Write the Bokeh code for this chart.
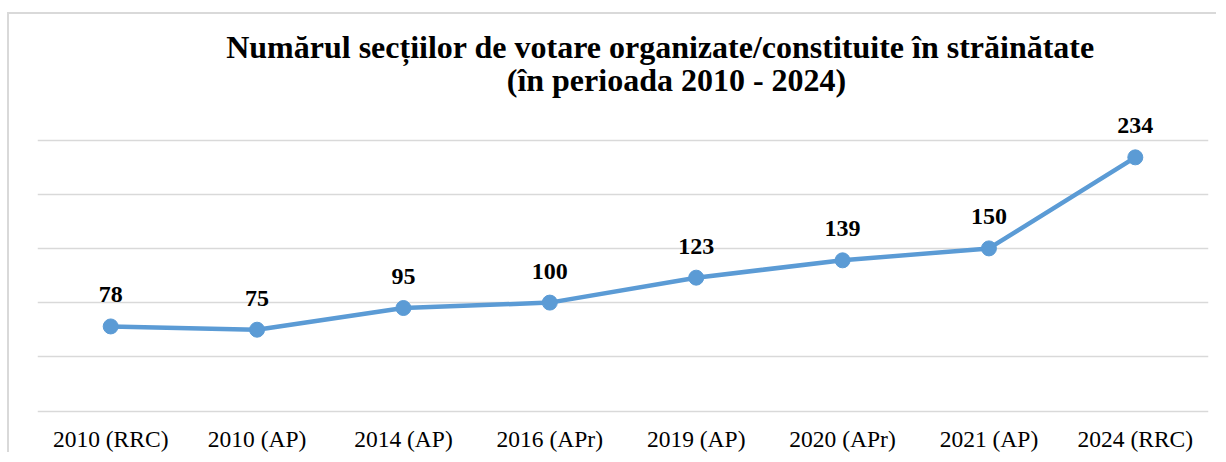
from bokeh.plotting import figure
from bokeh.models import FactorRange, Range1d, ColumnDataSource, LabelSet, Label
from bokeh.core.properties import value
from bokeh.embed import file_html
from bokeh.resources import INLINE

# ---- data ----
categories = ["2010 (RRC)", "2010 (AP)", "2014 (AP)", "2016 (APr)",
              "2019 (AP)", "2020 (APr)", "2021 (AP)", "2024 (RRC)"]
sections = [78, 75, 95, 100, 123, 139, 150, 234]
title_lines = ["Numărul secțiilor de votare organizate/constituite în străinătate",
               "(în perioada 2010 - 2024)"]
y_ticks = [0, 50, 100, 150, 200, 250]

SERIF = "Liberation Serif"
BLUE = "#5B9BD5"
GRID = "#d9d9d9"

# ---- layout (page pixels) ----
BORDER_X, BORDER_Y = 7, 12            # outer light border position
CANVAS_X0, CANVAS_Y0 = BORDER_X + 2, BORDER_Y + 2
W, H = 1209, 440
FRAME_L, FRAME_R = 37, 1208           # plot area horizontal extent
Y0_PAGE, YTOP_PAGE = 410.5, 139.5     # page y of value 0 and of value 250
PPU = (Y0_PAGE - YTOP_PAGE) / y_ticks[-1]
y_start = -(CANVAS_Y0 + H - Y0_PAGE) / PPU
y_end = (Y0_PAGE - CANVAS_Y0) / PPU
CAT_W = (FRAME_R - FRAME_L) / len(categories)


def page_to_data(px, py):
    return (px - FRAME_L) / CAT_W, (Y0_PAGE - py) / PPU


p = figure(width=W, height=H,
           x_range=FactorRange(*categories, range_padding=0),
           y_range=Range1d(y_start, y_end),
           output_backend="svg", toolbar_location=None,
           min_border_left=FRAME_L - CANVAS_X0,
           min_border_right=CANVAS_X0 + W - FRAME_R,
           min_border_top=0, min_border_bottom=0)

p.styles = {"border-left": "2px solid #d9d9d9", "border-top": "2px solid #d9d9d9",
            "margin-left": f"{BORDER_X}px", "margin-top": f"{BORDER_Y}px"}

p.outline_line_color = None
p.background_fill_color = "white"
p.border_fill_color = "white"

p.xaxis.visible = False
p.yaxis.visible = False
p.yaxis.ticker = y_ticks
p.xgrid.grid_line_color = None
p.ygrid.grid_line_color = GRID
p.ygrid.grid_line_width = 1.5

src = ColumnDataSource(dict(cat=categories, val=sections,
                            lab=[str(v) for v in sections],
                            zero=[0] * len(categories)))

p.line("cat", "val", source=src, line_color=BLUE, line_width=4.5)
p.scatter("cat", "val", source=src, size=15, fill_color=BLUE, line_color=BLUE)

p.add_layout(LabelSet(x="cat", y="val", text="lab", source=src,
                      y_offset=24, text_align="center", text_baseline="alphabetic",
                      text_font=value(SERIF), text_font_style="bold",
                      text_font_size="24px", text_color="black"))

# category labels under the baseline
p.add_layout(LabelSet(x="cat", y="zero", text="cat", source=src,
                      y_offset=-36, text_align="center", text_baseline="alphabetic",
                      text_font=value(SERIF), text_font_size="23.5px",
                      text_color="black"))

# two-line title
for t, (cx, by) in zip(title_lines, [(660, 46), (676, 79.5)]):
    tx, ty = page_to_data(cx, by)
    p.add_layout(Label(x=tx, y=ty, text=t, text_align="center",
                       text_baseline="alphabetic",
                       text_font=SERIF, text_font_style="bold",
                       text_font_size="32px", text_color="black"))

open("out.html", "w").write(file_html(p, INLINE))
